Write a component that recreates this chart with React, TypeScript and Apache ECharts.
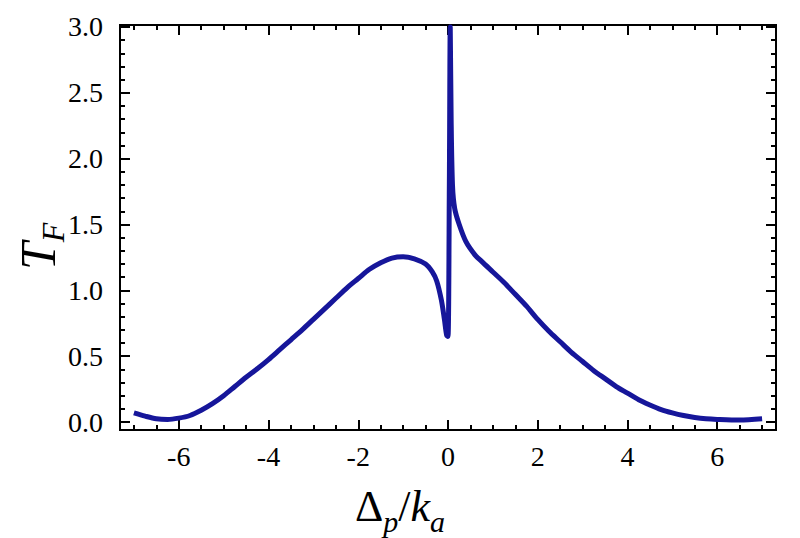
import { useRef, useEffect } from 'react';
import * as echarts from 'echarts';

// detuning Δp/ka
const detuning = [
    -7.0, -6.75, -6.5, -6.25, -6.0, -5.75, -5.5, -5.25, -5.0, -4.75, -4.5, -4.25, -4.0,
    -3.75, -3.5, -3.25, -3.0, -2.75, -2.5, -2.25, -2.0, -1.75, -1.5, -1.25, -1.0,
    -0.75, -0.5, -0.35, -0.25, -0.15, -0.08, -0.03, 0.0,
    0.03, 0.05, 0.07, 0.1, 0.15, 0.25, 0.4, 0.6, 0.75,
    1.0, 1.25, 1.5, 1.75, 2.0, 2.25, 2.5, 2.75, 3.0, 3.25, 3.5, 3.75, 4.0,
    4.25, 4.5, 4.75, 5.0, 5.25, 5.5, 5.75, 6.0, 6.5, 7.0,
];

// T_F
const transmission = [
    0.07, 0.045, 0.025, 0.02, 0.03, 0.05, 0.09, 0.14, 0.2, 0.27, 0.34, 0.405, 0.475,
    0.55, 0.625, 0.70, 0.78, 0.86, 0.94, 1.02, 1.09, 1.16, 1.21, 1.245, 1.255,
    1.24, 1.2, 1.14, 1.07, 0.93, 0.78, 0.66, 0.65,
    1.8, 3.0, 2.3, 1.8, 1.62, 1.5, 1.37, 1.27, 1.22,
    1.14, 1.06, 0.97, 0.88, 0.78, 0.69, 0.61, 0.53, 0.46, 0.39, 0.33, 0.27, 0.22,
    0.17, 0.13, 0.095, 0.07, 0.05, 0.035, 0.025, 0.02, 0.015, 0.025,
];

const xMajorTicks = [-6, -4, -2, 0, 2, 4, 6];
const xMinorTicks = [-7, -6.5, -5.5, -5, -4.5, -3.5, -3, -2.5, -1.5, -1, -0.5, 0.5, 1, 1.5, 2.5, 3, 3.5, 4.5, 5, 5.5, 6.5, 7];
const yMajorTicks = [0, 0.5, 1.0, 1.5, 2.0, 2.5, 3.0];
const yMinorTicks = [
    0.1, 0.2, 0.3, 0.4, 0.6, 0.7, 0.8, 0.9, 1.1, 1.2, 1.3, 1.4,
    1.6, 1.7, 1.8, 1.9, 2.1, 2.2, 2.3, 2.4, 2.6, 2.7, 2.8, 2.9,
];

const serif = 'Liberation Serif';

const X_MIN = -7.31;
const X_MAX = 7.31;
const Y_MIN = -0.06;
const Y_MAX = 3.015;

const App: React.FC = () => {
    const chartRef = useRef<HTMLDivElement>(null);

    useEffect(() => {
        if (!chartRef.current) return;
        const chart = echarts.init(chartRef.current, null, { renderer: 'svg' });

        const lineStyle = { color: '#000', width: 2 };

        const makeX = (position: 'bottom' | 'top', ticks: number[], len: number, labels: boolean) => ({
            type: 'value',
            position,
            min: X_MIN,
            max: X_MAX,
            axisLine: { show: true, onZero: false, lineStyle },
            axisTick: { show: true, inside: true, length: len, customValues: ticks, lineStyle },
            axisLabel: labels
                ? {
                    show: true,
                    customValues: xMajorTicks,
                    margin: 12,
                    color: '#000',
                    fontSize: 28,
                    fontFamily: serif,
                    formatter: (v: number) => String(v),
                }
                : { show: false },
            splitLine: { show: false },
        });

        const makeY = (position: 'left' | 'right', ticks: number[], len: number, labels: boolean) => ({
            type: 'value',
            position,
            min: Y_MIN,
            max: Y_MAX,
            axisLine: { show: true, onZero: false, lineStyle },
            axisTick: { show: true, inside: true, length: len, customValues: ticks, lineStyle },
            axisLabel: labels
                ? {
                    show: true,
                    customValues: yMajorTicks,
                    margin: 17,
                    color: '#000',
                    fontSize: 28,
                    fontFamily: serif,
                    formatter: (v: number) => v.toFixed(1),
                }
                : { show: false },
            splitLine: { show: false },
        });

        const option: any = {
            animation: false,
            backgroundColor: '#fff',
            textStyle: { fontFamily: serif },
            grid: {
                left: 120,
                right: 24,
                top: 25,
                bottom: 108,
                show: true,
                borderColor: '#000',
                borderWidth: 2,
            },
            xAxis: [
                makeX('bottom', xMajorTicks, 10, true),
                makeX('bottom', xMinorTicks, 5, false),
                makeX('top', xMajorTicks, 10, false),
                makeX('top', xMinorTicks, 5, false),
            ],
            yAxis: [
                makeY('left', yMajorTicks, 10, true),
                makeY('left', yMinorTicks, 5, false),
                makeY('right', yMajorTicks, 10, false),
                makeY('right', yMinorTicks, 5, false),
            ],
            graphic: [
                {
                    type: 'text',
                    left: 'center',
                    top: 476,
                    style: {
                        text: '{n|Δ}{s|p}{n|/}{i|k}{s|a}',
                        fill: '#000',
                        rich: {
                            n: { fontSize: 44, fontFamily: serif, lineHeight: 58, verticalAlign: 'middle' },
                            i: { fontSize: 44, fontFamily: serif, fontStyle: 'italic', lineHeight: 58, verticalAlign: 'middle' },
                            s: { fontSize: 30, fontFamily: serif, fontStyle: 'italic', lineHeight: 28, padding: [30, 0, 0, 0], verticalAlign: 'middle' },
                        },
                    },
                },
                {
                    type: 'text',
                    x: 8,
                    y: 270,
                    rotation: Math.PI / 2,
                    style: {
                        text: '{t|T}{s|F}',
                        fill: '#000',
                        rich: {
                            t: { fontSize: 50, fontFamily: serif, fontStyle: 'italic', lineHeight: 60, verticalAlign: 'middle' },
                            s: { fontSize: 32, fontFamily: serif, fontStyle: 'italic', lineHeight: 30, padding: [30, 0, 0, 0], verticalAlign: 'middle' },
                        },
                    },
                },
            ],
            series: [
                {
                    type: 'line',
                    xAxisIndex: 0,
                    yAxisIndex: 0,
                    showSymbol: false,
                    symbol: 'none',
                    smooth: 0.3,
                    clip: true,
                    lineStyle: { color: '#16169a', width: 5, join: 'round' },
                    data: detuning.map((x, i) => [x, transmission[i]]),
                },
            ],
        };

        chart.setOption(option);

        return () => {
            chart.dispose();
        };
    }, []);

    return (
        <div
            ref={chartRef}
            style={{ position: 'fixed', left: 0, top: 0, width: '800px', height: '538px' }}
        />
    );
};

export default App;
